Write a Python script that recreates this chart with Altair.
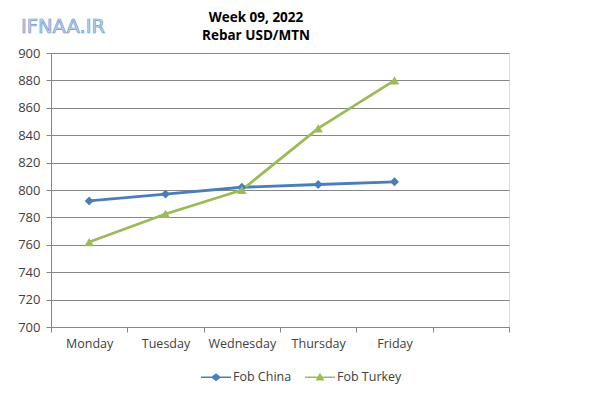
import json
import altair as alt
import pandas as pd

days = ["Monday", "Tuesday", "Wednesday", "Thursday", "Friday"]
china = [792, 797, 802, 804, 806]
turkey = [762, 782.5, 800, 845, 880]
series_names = ["Fob China", "Fob Turkey"]
series_colors = ["#4a7ebb", "#9bbb59"]
y_ticks = list(range(700, 901, 20))
n_slots = 6
title_lines = ["Week 09, 2022", "Rebar USD/MTN"]
watermark = "IFNAA.IR"

rows = []
for i, d in enumerate(days):
    rows.append({"day": d, "i": i, "series": series_names[0], "value": china[i]})
    rows.append({"day": d, "i": i, "series": series_names[1], "value": turkey[i]})
df = pd.DataFrame(rows)

W, H = 458, 274
FONT = "Open Sans"
AXC = "#868686"
TXT = "#404040"

x_values = list(range(n_slots + 1)) + [k + 0.5 for k in range(len(days))]
label_expr = (
    f"datum.value % 1 == 0 ? '' : "
    f"(floor(datum.value) < {len(days)} ? {json.dumps(days)}[floor(datum.value)] : '')"
)

x_enc = alt.X(
    "xpos:Q",
    scale=alt.Scale(domain=[0, n_slots], nice=False, zero=False),
    axis=alt.Axis(
        values=x_values, labelExpr=label_expr, title=None, grid=False,
        tickSize=5, tickColor=AXC,
        tickOpacity={"condition": {"test": "datum.value % 1 == 0", "value": 1}, "value": 0},
        domainColor=AXC, labelPadding=5, labelFont=FONT, labelFontSize=12.5,
        labelColor=TXT, labelOverlap=False, labelFlush=False, labelBound=False,
    ),
)
y_enc = alt.Y(
    "value:Q",
    scale=alt.Scale(domain=[700, 900], nice=False, zero=False),
    axis=alt.Axis(
        values=y_ticks, title=None, grid=True, gridColor=AXC, tickSize=5,
        tickColor=AXC, domainColor=AXC, labelPadding=6, labelFont=FONT,
        labelFontSize=13, labelColor=TXT,
    ),
)
color_scale = alt.Scale(domain=series_names, range=series_colors)

base = alt.Chart(df).transform_calculate(xpos="datum.i + 0.5")

line = base.mark_line(strokeWidth=2.8).encode(
    x=x_enc, y=y_enc, color=alt.Color("series:N", scale=color_scale, legend=None),
    detail="series:N",
)
china_pts = base.transform_filter(alt.datum.series == series_names[0]).mark_point(
    shape="diamond", filled=True, size=80, opacity=1
).encode(x=x_enc, y=y_enc, color=alt.Color("series:N", scale=color_scale, legend=None))
turkey_pts = base.transform_filter(alt.datum.series == series_names[1]).mark_point(
    shape="triangle-up", filled=True, size=90, opacity=1
).encode(x=x_enc, y=y_enc, color=alt.Color("series:N", scale=color_scale, legend=None))

diamond_path = "M-1,-0.05H-0.27L0,-0.27L0.27,-0.05H1V0.05H0.27L0,0.27L-0.27,0.05H-1Z"
triangle_path = "M-1,-0.05H-0.144L0,-0.3L0.144,-0.05H1V0.05H0.202L0.3,0.22H-0.3L-0.202,0.05H-1Z"

leg = alt.Legend(
    title=None, orient="none", legendX=150, legendY=309, direction="horizontal",
    symbolSize=900, symbolStrokeWidth=0, labelFont=FONT, labelFontSize=12.5,
    labelColor=TXT, columnPadding=13, labelOffset=2, symbolOpacity=1,
)
legend_layer = base.transform_filter("false").mark_point(filled=True, opacity=1).encode(
    x=x_enc, y=y_enc,
    color=alt.Color("series:N", scale=color_scale, legend=leg),
    shape=alt.Shape("series:N", scale=alt.Scale(domain=series_names,
                                                range=[diamond_path, triangle_path]), legend=leg),
)

wm = alt.Chart(pd.DataFrame({"t": [watermark]})).mark_text(
    font="DejaVu Sans", fontSize=19.5, fill="#c3d6ee", stroke="#6d9ad0",
    strokeWidth=0.7, align="left", baseline="middle",
).encode(text="t:N", x=alt.value(-30), y=alt.value(-26))

chart = alt.layer(line, china_pts, turkey_pts, legend_layer, wm).resolve_scale(
    color="independent", shape="independent"
).properties(
    width=W, height=H,
    title=alt.TitleParams(text=title_lines, font=FONT, fontSize=13.5, fontWeight="bold",
                          color="#000000", anchor="middle", dx=-24, dy=29.5, offset=4,
                          lineHeight=18),
    autosize=alt.AutoSizeParams(type="none"),
    padding={"left": 43, "top": 45, "right": 80, "bottom": 58},
).configure_view(stroke=None).configure(background="white")

chart.save("out.html", embed_options={"renderer": "svg", "actions": False})
